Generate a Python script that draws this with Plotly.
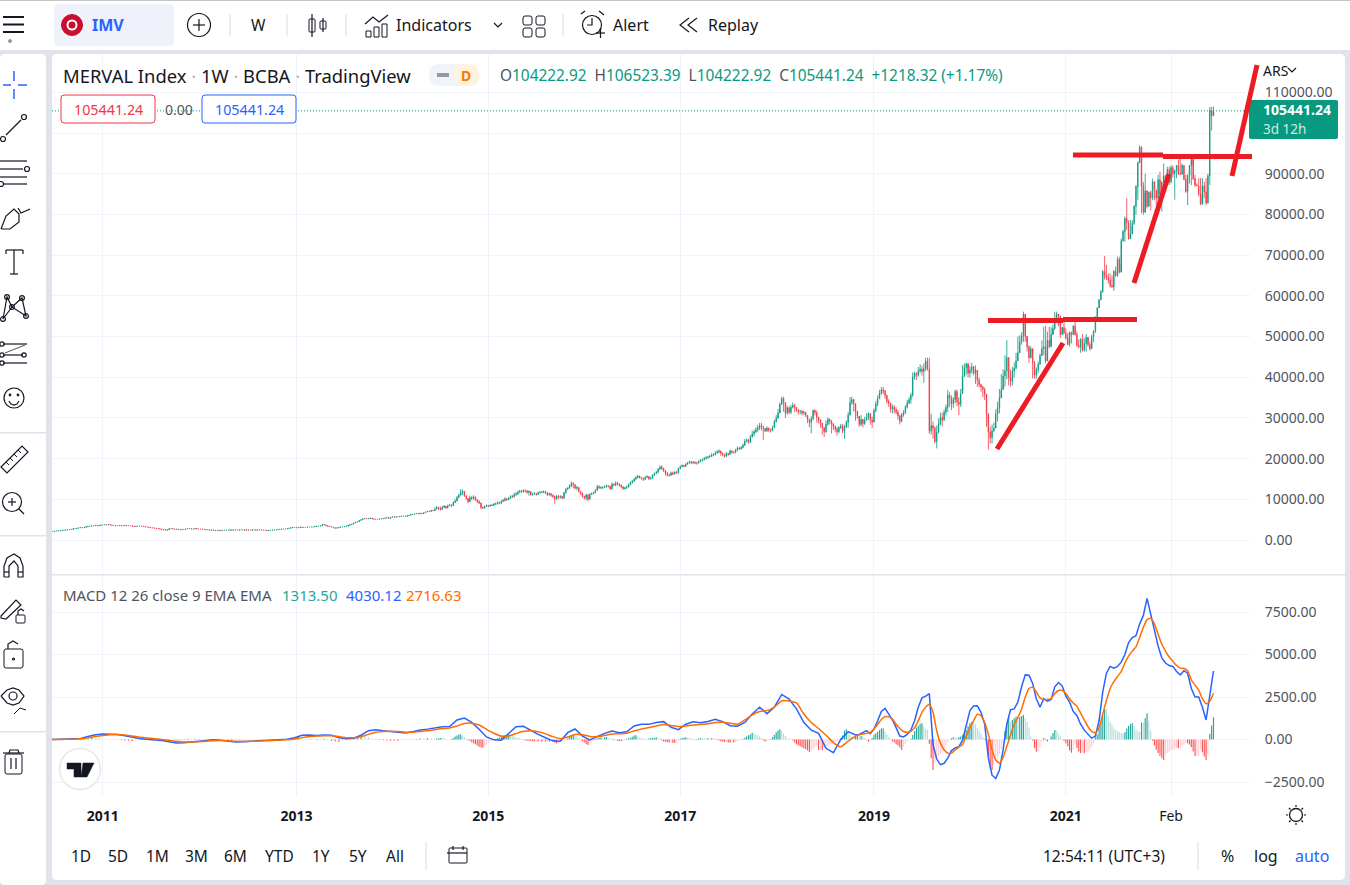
import pandas as pd
import plotly.graph_objects as go

# ---------- weekly closes, thousands of ARS (26 bars per row) ----------
closes = [
2.1,2.1,2.2,2.2,2.3,2.3,2.4,2.4,2.5,2.5,2.6,2.6,2.8,2.8,2.9,3.0,3.1,3.0,3.1,3.3,3.4,3.4,3.5,3.5,3.6,3.5,
3.6,3.7,3.7,3.8,3.7,3.8,3.7,3.6,3.6,3.5,3.5,3.6,3.5,3.5,3.6,3.5,3.5,3.5,3.4,3.3,3.4,3.4,3.4,3.4,3.3,3.2,
3.2,3.1,3.0,3.0,2.9,2.8,2.8,2.7,2.5,2.6,2.4,2.5,2.8,2.8,2.7,2.6,2.7,2.6,2.5,2.6,2.6,2.7,2.8,2.8,2.7,2.7,
2.8,2.7,2.7,2.7,2.6,2.6,2.5,2.5,2.4,2.5,2.4,2.3,2.3,2.4,2.3,2.4,2.4,2.4,2.4,2.5,2.4,2.5,2.4,2.4,2.5,2.5,
2.5,2.4,2.5,2.4,2.4,2.5,2.5,2.4,2.5,2.5,2.4,2.4,2.4,2.3,2.4,2.4,2.5,2.5,2.5,2.6,2.6,2.7,2.7,2.7,2.8,2.9,
3.0,3.1,3.1,3.0,3.1,3.2,3.1,3.1,3.1,3.2,3.2,3.2,3.2,3.3,3.4,3.4,3.5,3.8,3.7,3.5,3.4,3.3,3.2,3.0,2.9,3.0,
3.1,3.2,3.2,3.3,3.4,3.6,3.8,3.9,4.2,4.4,4.5,4.8,5.0,5.2,5.3,5.2,5.3,5.4,5.2,5.1,5.1,5.1,5.2,5.2,5.3,5.4,
5.5,5.3,5.6,5.7,5.6,5.7,5.7,5.8,5.9,5.9,5.8,6.0,6.1,6.3,6.3,6.4,6.5,6.4,6.6,6.5,6.7,6.9,7.1,7.0,7.3,7.2,
7.6,8.0,7.8,7.5,8.0,8.3,7.9,8.4,8.6,8.5,9.2,9.6,10.4,11.0,11.8,12.0,10.9,10.2,9.4,10.4,10.2,10.6,9.9,9.4,9.1,8.0,
7.9,8.2,8.4,8.3,8.5,8.5,8.8,8.9,9.2,9.0,9.5,9.7,10.1,9.9,10.2,10.7,10.6,11.1,11.3,11.7,12.0,11.8,12.1,12.0,11.7,11.9,
11.2,11.3,11.4,11.2,11.6,11.7,11.7,11.9,11.6,11.1,11.4,11.0,10.7,10.1,10.8,10.5,10.7,10.3,11.6,12.4,12.7,13.3,13.9,13.6,12.7,12.9,
11.9,11.4,10.7,10.3,11.1,10.0,11.2,11.4,11.6,12.2,13.1,12.8,12.9,12.9,13.1,13.3,13.2,12.6,13.7,13.5,14.0,13.7,13.4,13.1,12.6,12.8,
13.0,13.5,14.0,14.4,14.9,15.3,15.7,15.3,15.1,14.9,15.4,15.6,15.0,15.2,15.9,16.3,16.6,17.4,17.9,17.5,17.0,16.4,16.0,15.9,16.5,16.2,
16.7,16.5,17.5,18.0,18.3,18.1,18.6,18.9,19.2,19.0,19.1,18.9,18.9,19.3,19.5,19.7,20.0,20.2,20.4,20.5,20.9,21.0,21.4,21.6,21.8,21.3,
21.0,20.6,21.3,21.0,21.9,21.6,21.5,22.1,22.6,22.4,22.7,23.3,24.2,24.6,24.0,25.3,26.0,26.6,27.1,27.6,28.1,27.7,27.4,26.8,27.5,27.1,
26.9,27.6,29.0,29.9,31.2,33.3,34.8,33.8,31.2,32.5,31.4,32.6,33.1,32.6,32.0,31.5,31.6,31.2,31.4,30.6,29.6,28.9,29.8,31.8,31.3,30.2,
29.4,28.7,27.6,26.6,28.4,29.7,29.1,28.6,27.8,27.3,26.6,27.6,28.0,26.8,27.7,28.9,30.7,33.8,34.5,33.5,31.6,30.4,28.4,29.6,28.6,29.5,
30.1,31.0,29.5,29.0,31.8,33.4,34.7,36.0,36.9,36.7,35.5,34.1,33.6,32.2,32.7,32.0,31.4,30.5,29.2,30.8,31.3,32.6,33.6,34.5,35.6,40.1,
40.9,40.5,41.6,42.0,41.4,42.1,44.0,42.0,26.8,28.1,27.5,24.2,26.5,28.5,30.1,29.4,31.4,32.6,35.6,34.9,33.5,34.5,36.5,33.9,33.3,36.0,
40.2,42.4,43.3,41.0,41.8,42.5,41.0,41.7,39.3,38.2,37.6,37.0,35.8,31.0,26.5,25.1,26.8,27.5,31.0,32.5,34.9,37.0,40.3,41.5,44.8,40.0,
39.0,41.5,42.2,44.0,46.0,48.7,50.0,55.5,50.0,47.5,44.8,47.0,43.5,40.5,41.8,43.2,45.3,47.0,47.5,44.0,49.0,47.5,50.5,52.0,54.5,55.5,
55.0,50.4,52.2,50.8,49.6,48.0,51.0,50.4,52.5,50.5,47.8,47.4,49.3,46.6,48.3,49.8,48.0,47.0,50.0,51.2,54.6,57.0,59.0,61.0,66.0,65.0,
64.5,63.9,62.5,62.2,66.0,64.9,69.0,65.8,73.5,75.8,79.0,78.0,74.0,75.2,77.8,82.0,86.8,92.7,96.5,87.0,80.5,85.8,82.0,85.4,84.0,88.0,
86.0,84.0,88.5,85.0,88.0,89.5,88.0,91.0,88.0,91.5,90.0,90.8,92.0,90.0,89.9,92.0,88.6,85.6,89.7,92.0,93.5,88.8,87.2,87.0,85.0,82.5,
87.0,85.5,82.8,89.5,105.5,104.2,105.44]
highs_late = [
8.0,8.3,8.2,8.2,8.4,8.6,8.4,8.7,8.9,8.8,9.5,10.0,10.8,11.4,12.5,12.4,12.0,10.9,10.3,10.9,10.8,11.0,10.6,10.0,9.8,9.2,
8.2,8.5,8.7,8.6,8.8,8.8,9.1,9.2,9.5,9.4,9.8,10.1,10.5,10.3,10.6,11.0,11.1,11.6,11.8,12.2,12.3,12.3,12.5,12.4,12.3,12.2,
11.7,11.6,11.8,11.6,11.9,12.0,12.1,12.2,12.1,11.7,11.7,11.4,11.2,10.9,11.1,11.0,11.0,10.9,11.9,12.8,13.0,13.7,14.4,14.2,13.7,13.3,
12.5,12.1,11.7,10.9,11.4,11.2,11.5,11.7,11.9,12.5,13.5,13.5,13.2,13.2,13.4,13.6,13.5,13.3,14.1,13.9,14.4,14.3,13.9,13.7,13.2,13.1,
13.4,13.9,14.4,14.8,15.3,15.8,16.0,15.8,15.5,15.3,15.7,15.9,15.7,15.6,16.2,16.6,17.0,17.7,18.3,18.4,17.8,17.2,16.7,16.3,16.8,16.8,
16.9,17.0,17.8,18.3,18.6,18.5,18.9,19.2,19.5,19.4,19.4,19.3,19.2,19.6,19.9,20.0,20.4,20.6,20.7,20.9,21.3,21.3,21.8,22.1,22.3,22.0,
21.5,21.2,21.6,21.4,22.2,22.0,21.8,22.4,23.0,22.8,23.1,23.7,24.8,25.0,24.8,25.8,26.8,27.1,27.7,28.3,28.8,28.8,28.1,27.5,27.9,27.6,
27.4,28.1,29.6,30.7,32.2,33.8,35.2,35.2,33.7,33.0,32.8,33.2,33.8,33.4,32.7,32.1,32.0,32.0,31.8,31.4,30.7,29.8,30.4,32.1,32.1,31.8,
30.3,29.7,28.5,27.7,29.4,30.1,29.8,29.5,28.4,28.1,27.8,28.0,28.5,28.5,28.3,29.4,31.5,35.1,35.2,34.6,33.0,31.8,29.9,30.7,29.8,30.3,
31.2,31.4,31.2,30.3,32.3,34.2,35.5,36.9,37.6,37.6,36.8,35.7,34.6,33.8,33.3,33.1,32.6,32.0,30.8,31.2,31.9,33.1,34.4,35.1,36.2,41.2,
41.4,41.2,42.5,43.2,42.8,43.4,44.8,44.8,44.8,31.0,29.1,27.9,28.1,29.9,31.3,31.3,32.1,33.3,36.9,36.3,35.5,35.1,37.0,36.9,35.1,37.1,
43.0,43.4,43.6,42.1,42.8,43.5,42.8,42.9,41.6,39.9,38.4,37.9,37.5,35.2,28.4,27.8,28.4,28.9,32.1,34.0,37.1,40.8,42.0,45.4,49.1,44.4,
41.9,42.5,43.6,46.0,50.0,50.3,51.0,56.1,53.5,48.7,47.8,47.6,45.8,44.0,42.4,43.8,45.8,49.0,52.4,52.6,51.2,52.4,52.3,53.0,56.1,56.1,
55.5,53.0,52.4,53.5,52.0,50.8,51.2,51.2,52.8,53.6,51.2,49.3,49.6,50.6,49.6,50.6,49.0,48.7,50.4,51.6,55.0,57.2,59.2,61.4,66.3,69.8,
67.6,65.5,65.5,65.0,66.3,67.2,69.6,69.6,74.1,76.2,79.5,84.0,78.6,78.6,78.6,82.3,87.2,93.0,97.0,96.7,88.0,90.0,85.6,85.6,85.8,88.8,
87.5,86.0,89.7,90.5,88.0,92.5,89.7,91.7,91.7,92.1,92.0,91.0,92.1,93.4,93.8,92.5,92.1,89.7,89.7,92.1,93.8,92.1,89.7,87.6,88.9,88.9,
88.9,88.0,88.9,90.0,106.4,106.4,106.52]
lows_late = [
7.2,7.5,7.4,7.2,7.4,7.9,7.6,7.8,8.3,8.1,8.4,9.1,9.5,10.3,10.9,11.0,10.6,9.9,9.0,9.3,9.8,9.9,9.6,9.1,8.8,7.6,
7.6,7.7,8.1,8.1,8.2,8.3,8.4,8.6,8.7,8.8,9.0,9.3,9.5,9.6,9.8,10.1,10.3,10.5,10.9,11.0,11.5,11.6,11.7,11.7,11.4,10.9,
10.9,10.9,11.1,10.9,11.1,11.4,11.5,11.5,11.3,10.8,10.9,10.6,10.3,8.9,9.9,10.1,10.2,10.0,10.1,11.4,12.3,12.5,13.0,12.7,12.5,12.2,
11.7,11.1,10.4,10.0,9.8,9.5,10.0,11.1,11.2,11.5,12.1,12.5,12.5,12.5,12.8,12.9,12.9,12.3,12.4,13.2,13.2,13.4,13.1,12.8,12.3,12.4,
12.6,12.9,13.5,13.9,14.4,14.9,15.2,15.1,14.8,14.5,14.8,15.2,14.8,14.8,15.1,15.8,16.2,16.5,17.3,17.2,16.7,15.8,15.6,15.6,15.8,15.9,
16.1,16.2,16.3,17.4,17.9,17.8,18.0,18.5,18.8,18.6,18.7,18.6,18.5,18.8,19.1,19.3,19.6,19.8,20.0,20.2,20.4,20.6,20.8,21.2,21.3,20.7,
20.6,20.2,20.4,20.7,21.0,21.2,21.2,21.3,21.8,22.2,22.2,22.5,23.1,24.0,23.6,23.8,25.2,25.5,26.3,26.5,27.0,26.9,24.6,26.5,26.6,26.5,
26.4,26.7,27.8,28.9,30.3,31.8,33.5,31.5,30.0,30.8,30.9,30.9,32.3,31.4,31.5,30.8,30.9,30.6,30.7,30.2,28.7,27.7,26.2,29.4,30.6,28.8,
28.6,27.6,25.9,25.3,26.3,28.1,28.4,26.2,27.0,26.4,25.6,26.2,27.3,26.2,24.8,27.5,27.6,30.6,33.2,31.6,29.3,29.8,27.8,28.0,27.7,28.3,
29.3,29.5,28.3,27.5,28.9,31.4,32.8,34.7,35.7,35.9,34.7,33.5,32.7,31.3,31.1,31.1,30.9,29.6,28.4,28.9,30.3,30.9,32.3,33.4,33.5,35.1,
39.4,39.3,40.1,41.0,40.4,38.6,41.5,41.6,26.1,25.9,24.9,23.7,22.5,26.2,28.2,27.9,29.4,30.6,31.4,32.7,31.9,32.5,33.6,32.9,30.7,32.7,
38.2,40.4,40.6,40.0,39.9,40.9,40.5,38.3,37.6,37.5,36.4,35.1,34.4,27.8,22.2,23.7,23.7,26.6,27.9,29.1,31.1,36.5,37.7,37.7,39.5,38.0,
37.7,37.9,39.9,41.9,44.0,46.5,48.0,48.7,48.7,46.3,43.5,44.6,39.7,39.7,39.6,41.0,43.4,45.4,45.4,43.4,45.8,47.1,49.6,51.5,51.6,54.5,
52.5,49.6,50.4,50.6,49.3,47.9,47.5,48.3,50.4,50.2,47.5,47.1,46.0,46.3,46.3,46.3,47.5,46.5,48.3,48.6,50.9,54.8,57.0,59.0,60.8,64.0,
63.9,63.0,62.0,62.0,61.2,64.7,64.7,65.5,67.6,73.3,73.3,76.2,73.8,75.0,77.0,77.4,79.9,83.6,93.0,80.3,79.9,85.2,81.5,81.9,81.0,83.5,
83.5,82.0,82.7,84.4,80.7,87.6,87.3,87.6,87.2,87.6,89.0,83.6,88.9,89.7,89.7,89.7,88.4,85.3,82.3,87.6,87.2,88.4,86.8,87.0,84.5,82.3,
85.0,84.0,82.3,82.7,87.2,100.6,104.22]

# ---------- MACD pane, ARS ----------
macd_early = [0,10,20,30,60,180,280,320,330,300,220,120,60,20,-10,-60,-130,-210,-190,-150,-110,-60,-20,-40,-80,-140,-130,-100,-80,-50,-30,-20,10,100,250,270,240,260,250,100,40,80,250,520,580,520,470,420,380,450,560,610,700,750,760,1150,1260,1010,600,150,-20,-40,350,750,780,530,300,100,-80,-100,400,620,200,-30,180,360,500,400,450,800,890,890,1000,1050,720,580,900,1040,990,1060,1190,1050,810,780,1000,1500,1900,1520,1900,2650,2380,1800,1000,550,360,-520,-780,0,460]
macd_late = [270,300,400,520,340,620,1100,1650,1830,1500,1150,700,200,150,300,560,1100,1900,2450,2550,2700,-300,-1150,-1480,-1400,-1100,-650,-500,-420,-50,800,1700,1970,1980,1600,900,-1100,-2100,-2300,-1800,-600,900,1750,1800,2200,3100,3800,3780,3300,2400,1900,2400,2250,2350,3100,3350,3150,2550,2200,1650,1400,900,550,300,80,200,1100,2800,3900,4300,4200,4300,4550,5000,5700,6000,6100,6800,7300,8300,7300,6300,5500,4800,4500,4350,4300,4000,3800,4050,3900,3000,2500,2500,1900,1150,2500,4030]
signal_early = [0,5,10,20,40,100,170,230,280,290,260,200,140,90,50,0,-50,-110,-140,-150,-130,-100,-70,-60,-70,-100,-110,-110,-100,-80,-60,-40,-20,30,110,170,200,220,220,170,110,100,160,300,420,470,480,470,430,430,470,520,580,640,680,800,940,960,850,600,370,200,210,350,480,510,450,330,170,50,150,300,280,180,170,240,320,340,370,500,620,700,800,880,830,760,790,850,880,930,1000,1020,960,900,1150,1450,1650,1700,1900,2280,2270,2150,1500,1000,650,250,-180,-430,-100]
signal_late = [200,280,320,360,420,620,900,1180,1340,1330,1200,900,650,470,420,480,700,1100,1600,1900,2070,1600,500,-200,-600,-800,-800,-620,-450,-300,200,700,1100,1480,1400,1000,300,-600,-1200,-1380,-1050,-400,250,900,1300,1800,2500,3000,3070,2800,2450,2350,2350,2400,2700,2880,2890,2700,2400,2150,1950,1550,1150,750,480,400,700,1500,2300,3000,3400,3700,4000,4500,4900,5200,5450,6000,6600,7050,7130,6800,6200,5600,5200,4850,4600,4350,4200,4180,4050,3500,3200,2900,2400,2100,2250,2717]
hist_early = [
-40,-30,-10,10,10,20,30,30,40,50,70,90,80,
40,20,10,5,5,-10,-30,-60,-80,-90,-70,-50,-40,
-40,-50,-60,-70,-90,-110,-100,-60,-30,20,30,40,40,
50,40,30,-20,-30,-50,-60,-50,-40,30,50,40,20,
20,20,10,10,10,-20,-10,-10,10,10,20,30,50,
100,130,140,90,50,20,20,30,30,40,20,-90,-120,
-140,-110,-80,-60,110,190,220,200,140,60,40,-30,-50,
-60,-70,-80,-90,-60,-60,-50,-40,30,60,60,80,80]
hist_late = [
40,60,70,90,90,70,50,20,10,30,90,170,240,300,310,220,140,60,-40,-70,-160,-220,-280,-350,-420,-470,
-480,-400,-300,-200,-130,-70,-20,30,80,120,170,220,270,290,300,280,240,180,150,110,70,30,-20,-60,-70,-80,
-90,-100,-110,-110,-120,-100,-130,-110,-120,-110,-130,-110,-140,-190,-240,-200,-150,-100,-50,-10,60,140,220,260,240,170,
80,-20,-100,-180,-280,-320,-220,-130,-60,30,70,100,120,80,120,150,100,60,40,-50,-30,-80,-90,-110,-100,-40,
40,70,110,160,230,250,180,120,90,60,50,50,60,70,90,110,130,80,60,-60,-120,-130,-160,-180,-170,-190,
-200,-120,-60,40,90,110,130,120,100,60,30,-10,30,60,80,70,70,60,70,60,80,70,40,-30,-60,-100,
-120,-150,-140,-170,-190,-170,-180,-150,-110,-60,-20,30,100,170,250,300,390,340,280,230,170,110,-60,-120,-100,-40,
30,140,280,420,530,610,500,360,200,80,50,20,-60,-180,-280,-340,-400,-470,-510,-580,-640,-730,-700,-580,-420,-320,
-620,-600,-640,-520,-420,-380,-300,-240,-200,-150,-100,-50,60,240,520,620,400,300,170,140,180,200,170,210,160,100,
-20,-130,-120,90,280,370,460,560,640,660,480,300,150,50,-100,-170,-280,-360,-470,-620,-430,-270,-110,-50,50,270,
480,700,810,920,950,760,620,560,-250,-1100,-1800,-1400,-1100,-950,-850,-700,-500,-330,-150,-30,70,130,120,110,130,170,
250,380,560,780,960,1050,1010,900,680,520,330,150,-30,-320,-950,-1600,-1800,-1500,-1300,-1050,-820,-550,-300,500,950,1300,
1050,1150,1250,1340,1300,1320,1380,1440,1250,1050,700,170,-60,-500,-720,-700,-450,-130,100,-40,-120,-50,170,380,560,500,
330,170,30,-80,-220,-400,-640,-780,-620,-300,-500,-700,-800,-750,-810,-720,-700,-600,-450,-220,130,300,650,1050,1450,1790,
1790,1400,1050,850,650,560,480,420,380,360,430,640,800,900,950,800,600,500,450,1000,1000,1250,1540,1100,500,-80,
-350,-600,-800,-950,-1100,-1200,-900,-800,-700,-620,-620,-560,-500,-520,-520,-400,-300,-200,-220,-300,-450,-700,-970,-960,-960,-600,
-750,-1000,-1200,-900,320,830,1313]

price_ticks = [0,10000,20000,30000,40000,50000,60000,70000,80000,90000,100000,110000]
macd_ticks = [-2500,0,2500,5000,7500]
year_ticks = ["2011-01-03","2013-01-07","2015-01-05","2017-01-02","2019-01-07","2021-01-04","2022-02-07"]
year_labels = ["<b>2011</b>","<b>2013</b>","<b>2015</b>","<b>2017</b>","<b>2019</b>","<b>2021</b>","Feb"]

W, H = 1350, 885
GREEN, RED, BLUE, ORANGE = "#089981", "#f23645", "#2962ff", "#ff6d00"
INK, GREY, GRID, BAND = "#131722", "#50535e", "#f0f3fa", "#e0e3eb"
FONT = "Noto Sans"

n = len(closes)
dates = pd.date_range(end="2022-07-18", periods=n, freq="W-MON")
c = [v * 1000 for v in closes]
o = [c[0]] + c[:-1]
tail = n - len(highs_late)
h = [max(a, b) for a, b in zip(o[:tail], c[:tail])] + [v * 1000 for v in highs_late]
tail = n - len(lows_late)
l = [min(a, b) for a, b in zip(o[:tail], c[:tail])] + [v * 1000 for v in lows_late]

line_idx = list(range(0, 4 * len(macd_early), 4))
line_idx_late = list(range(n - 1 - 2 * (len(macd_late) - 1), n, 2))
line_x = list(dates[line_idx]) + list(dates[line_idx_late])
macd_vals = macd_early + macd_late
signal_vals = signal_early + signal_late
hist_x = list(dates[list(range(0, 2 * len(hist_early), 2))]) + list(dates[n - len(hist_late):])
hist_vals = hist_early + hist_late
hist_colors = []
for i, v in enumerate(hist_vals):
    prev = hist_vals[i - 1] if i else 0
    if v >= 0:
        hist_colors.append("#26a69a" if v > prev else "#b2dfdb")
    else:
        hist_colors.append("#ff5252" if v < prev else "#ffcdd2")

fig = go.Figure()
fig.add_trace(go.Candlestick(
    x=dates, open=o, high=h, low=l, close=c, xaxis="x", yaxis="y", hoverinfo="skip", whiskerwidth=0,
    increasing=dict(line=dict(color=GREEN, width=0.8), fillcolor=GREEN),
    decreasing=dict(line=dict(color=RED, width=0.8), fillcolor=RED)))
fig.add_trace(go.Bar(x=hist_x, y=hist_vals, xaxis="x2", yaxis="y2", marker=dict(color=hist_colors, line=dict(width=0)),
                     width=7 * 86400000 * 0.62, hoverinfo="skip"))
fig.add_trace(go.Scatter(x=line_x, y=macd_vals, xaxis="x2", yaxis="y2", mode="lines",
                         line=dict(color=BLUE, width=1.5), hoverinfo="skip"))
fig.add_trace(go.Scatter(x=line_x, y=signal_vals, xaxis="x2", yaxis="y2", mode="lines",
                         line=dict(color=ORANGE, width=1.5, shape="spline", smoothing=0.6), hoverinfo="skip"))

# ---------- pixel helpers for the application chrome ----------
shapes, notes = [], []
def fx(px): return px / W
def fy(py): return 1 - py / H
def rrect(x0, y0, x1, y1, r=0, fill=None, stroke=None, w=1, layer="below"):
    X0, X1, Y0, Y1 = fx(x0), fx(x1), fy(y0), fy(y1)
    rx, ry = r / W, r / H
    p = (f"M{X0+rx},{Y0} L{X1-rx},{Y0} Q{X1},{Y0} {X1},{Y0-ry} L{X1},{Y1+ry} Q{X1},{Y1} {X1-rx},{Y1} "
         f"L{X0+rx},{Y1} Q{X0},{Y1} {X0},{Y1+ry} L{X0},{Y0-ry} Q{X0},{Y0} {X0+rx},{Y0} Z")
    shapes.append(dict(type="path", path=p, xref="paper", yref="paper", fillcolor=fill or "rgba(0,0,0,0)",
                       line=dict(color=stroke or "rgba(0,0,0,0)", width=w if stroke else 0), layer=layer))
def seg(pts, color=INK, w=1.2, close=False, layer="above"):
    p = "M" + " L".join(f"{fx(a)},{fy(b)}" for a, b in pts) + (" Z" if close else "")
    shapes.append(dict(type="path", path=p, xref="paper", yref="paper", line=dict(color=color, width=w), layer=layer))
def circ(cx, cy, r, color=INK, w=1.2, fill=None, layer="above"):
    shapes.append(dict(type="circle", xref="paper", yref="paper", x0=fx(cx-r), x1=fx(cx+r), y0=fy(cy+r), y1=fy(cy-r),
                       line=dict(color=color, width=w), fillcolor=fill or "rgba(0,0,0,0)", layer=layer))
def text(px, py, s, size=14, color=INK, anchor="left", font=FONT):
    notes.append(dict(x=fx(px), y=fy(py), xref="paper", yref="paper", text=s, showarrow=False, xanchor=anchor,
                      yanchor="middle", align=anchor, font=dict(family=font, size=size, color=color), borderpad=0))

# panels
rrect(0, 1, 1350, 50, fill="#ffffff")
rrect(0, 0, 1350, 1, fill="#c4c4c4")
rrect(0, 54, 46, 885, 5, fill="#ffffff")
rrect(52, 54, 1345, 880, 5, fill="#ffffff")
for yy in (432, 535, 731):
    rrect(0, yy, 46, yy + 1.5, fill=BAND)
rrect(52, 574, 1345, 575.5, fill=BAND, layer="below")

# top bar
for yy in (17, 24.5, 32):
    seg([(3, yy), (24, yy)], w=2)
circ(10, 41, 1.5, "#9598a1", 1, "#9598a1")
rrect(54, 4, 174, 46, 4, fill="#eff2fa")
circ(72, 25, 10.5, "#c8102e", 1, "#c8102e")
circ(72, 25, 4.5, "#ffffff", 2)
text(91, 25, "<b>IMV</b>", 16, BLUE)
circ(199, 25, 11.5, INK, 1.2)
seg([(193, 25), (205, 25)]); seg([(199, 19), (199, 31)])
for xx in (230, 287, 346, 563):
    seg([(xx, 14), (xx, 36)], BAND, 1.2)
text(258, 25, "W", 15.5, INK, "center")
seg([(312, 14), (312, 37)]); seg([(323, 18), (323, 32)])
rrect(309, 19, 315, 32, 1, stroke=INK, layer="above"); rrect(320, 21, 326, 29, 1, stroke=INK, layer="above")
seg([(365, 24), (373, 17), (379, 22), (388, 15)])
for a, b in ((366, 31), (374, 27), (382, 24)):
    rrect(a, b, a + 5, 37, stroke=INK, layer="above")
text(395, 25, "Indicators", 16)
seg([(494, 23), (498, 27), (502, 23)])
for a in (523, 536):
    for b in (16, 28):
        rrect(a, b, a + 9, b + 9, 2, stroke=INK, layer="above")
circ(592, 25, 9.5)
seg([(592, 18), (592, 25), (587, 25)])
seg([(581, 14), (585, 11)]); seg([(599, 11), (604, 15)]); seg([(596, 33), (605, 33)]); seg([(600.5, 28), (600.5, 38)])
text(612, 25, "Alert", 16)
seg([(689, 18), (680, 25), (689, 32)]); seg([(697, 18), (688, 25), (697, 32)])
text(707, 25, "Replay", 16)

# left toolbar
seg([(3, 85), (11, 85)], BLUE, 1.5); seg([(18, 85), (27, 85)], BLUE, 1.5)
seg([(14, 71), (14, 81)], BLUE, 1.5); seg([(14, 89), (14, 99)], BLUE, 1.5)
seg([(6, 135), (21, 120)]); circ(3, 139, 2.5); circ(24, 117, 2.5)
seg([(0, 161), (27, 161)]); seg([(0, 169), (23, 169)]); seg([(0, 177), (27, 177)]); seg([(4, 184), (27, 184)])
circ(27, 169, 2.5); circ(1, 184, 2.5)
seg([(1, 229), (6, 216), (14, 209), (19, 214), (19, 222), (10, 229), (1, 229)])
seg([(18, 208), (21, 213), (30, 209)])
seg([(6, 250), (23, 250)]); seg([(6, 250), (6, 254)]); seg([(23, 250), (23, 254)]); seg([(14, 250), (14, 274)]); seg([(10, 274), (18, 274)])
for p in [(3, 319), (7, 297), (22, 298), (26, 316), (12, 307)]:
    circ(p[0], p[1], 2.4)
seg([(3, 319), (7, 297), (12, 307), (22, 298), (26, 316), (12, 307), (3, 319)])
seg([(3, 344), (27, 344)]); seg([(3, 355), (23, 355)]); seg([(3, 363), (27, 363)])
seg([(5, 353), (25, 345)], GREY, 1)
circ(2, 344, 2.2); circ(2, 355, 2.2); circ(2, 363, 2.2); circ(24, 355, 2.2)
circ(14, 398, 10); circ(10, 395, .8); circ(18, 395, .8)
seg([(9, 401), (11, 404), (14, 405), (17, 404), (19, 401)])
seg([(1, 467), (22, 446), (28, 452), (7, 473)], close=True)
for a, b in ((6, 462), (10, 458), (14, 454), (18, 450)):
    seg([(a, b), (a + 3, b + 3)], INK, 1)
circ(12, 502, 9.5); seg([(19, 509), (24, 514)]); seg([(8, 502), (16, 502)]); seg([(12, 498), (12, 506)])
seg([(4, 577), (4, 566), (7, 558), (14, 554), (20, 558), (23, 566), (23, 577), (18, 577), (18, 566), (14, 561), (9, 566), (9, 577), (4, 577)])
seg([(4, 572), (9, 572)]); seg([(18, 572), (23, 572)])
seg([(1, 616), (16, 600), (21, 605), (6, 619), (1, 618)], close=True)
rrect(16, 615, 25, 623, 1, stroke=INK, layer="above"); seg([(18, 615), (18, 611), (21, 609), (24, 611)])
rrect(4, 649, 23, 668, 2, stroke=INK, layer="above"); seg([(8, 649), (8, 644), (13, 641), (18, 644)]); circ(13.5, 659, 1)
seg([(1, 696), (7, 690), (13, 688), (19, 690), (24, 696), (19, 703), (13, 705), (7, 703), (1, 696)])
circ(13, 696, 4); seg([(14, 714), (20, 708), (26, 710)], INK, 1)
rrect(5, 754, 22, 774, 2, stroke=INK, layer="above"); seg([(3, 753), (24, 753)]); seg([(9, 753), (10, 750), (18, 750), (19, 753)])
seg([(11, 758), (11, 769)]); seg([(16, 758), (16, 769)])

# legends
text(62, 75, "MERVAL Index <span style='color:#b2b5be'>·</span> 1W <span style='color:#b2b5be'>·</span> BCBA <span style='color:#b2b5be'>·</span> TradingView", 18.4)
rrect(429, 64, 479, 86, 10, fill="#f0f3fa")
rrect(454, 64, 479, 86, 10, fill="#fff3e0")
seg([(437, 75), (449, 75)], "#9598a1", 4)
text(466, 75, "<b>D</b>", 14, "#f57c00", "center")
text(499, 75, "".join(f"<span style='color:{GREY}'>{a}</span>{b}  " for a, b in
     (("O", "104222.92"), ("H", "106523.39"), ("L", "104222.92"), ("C", "105441.24"))) + "+1218.32 (+1.17%)", 15.4, GREEN)
rrect(61, 95, 155, 123, 3, fill="#ffffff", stroke=RED, layer="above")
rrect(202, 95, 296, 123, 3, fill="#ffffff", stroke=BLUE, layer="above")
text(108, 109.5, "105441.24", 14.3, RED, "center")
text(249, 109.5, "105441.24", 14.3, BLUE, "center")
text(178.5, 109.5, "0.00", 14, GREY, "center")
text(62, 595, "MACD 12 26 close 9 EMA EMA", 15, GREY)
text(281, 595, "1313.50", 15, "#26a69a"); text(345, 595, "4030.12", 15, BLUE); text(405, 595, "2716.63", 15, ORANGE)
text(1262, 70, "ARS", 14, INK)
seg([(1288, 68), (1292, 72), (1296, 68)])

# last-price tag
rrect(1249, 100, 1338, 139, 2, fill=GREEN, layer="above")
text(1262, 110, "<b>105441.24</b>", 14, "#ffffff")
text(1262, 129, "3d 12h", 13.5, "#cfeae4")

# logo
circ(80, 769, 20.5, "#e6e7ea", 1.5, "#ffffff")
seg([(67, 763), (81, 763), (81, 777), (74, 777), (74, 769), (67, 769)], INK, .5, True)
shapes[-1]["fillcolor"] = INK
seg([(83, 763), (94, 763), (87, 777), (81, 777)], INK, .5, True)
shapes[-1]["fillcolor"] = INK

# bottom bar
for s, xx in zip(["1D", "5D", "1M", "3M", "6M", "YTD", "1Y", "5Y", "All"], [81, 118, 157, 196, 235, 279, 321, 358, 395]):
    text(xx, 856, s, 15.5, INK, "center")
seg([(426, 842), (426, 870)], BAND, 1.2)
rrect(449, 848, 467, 863, 1, stroke=INK, layer="above")
seg([(447, 853), (467, 853)]); seg([(453, 846), (453, 850)]); seg([(463, 846), (463, 850)])
text(1042, 856, "12:54:11 (UTC+3)", 15.5)
seg([(1198, 842), (1198, 870)], BAND, 1.2)
text(1227, 856, "%", 16, INK, "center"); text(1266, 856, "log", 16, INK, "center"); text(1312, 856, "auto", 16, BLUE, "center")
circ(1296, 815, 6.5, INK, 1.3)
for a, b, d, e in ((1296, 805, 1296, 807), (1296, 823, 1296, 825), (1286, 815, 1288, 815), (1304, 815, 1306, 815),
                   (1289, 808, 1290.5, 809.5), (1301.5, 820.5, 1303, 822), (1289, 822, 1290.5, 820.5), (1301.5, 809.5, 1303, 808)):
    seg([(a, b), (d, e)], INK, 1.2)

# hand-drawn red strokes over the chart
for pts in ([(997, 449), (1063, 343)], [(988, 320.5), (1063, 320.5)], [(1063, 319.5), (1137, 319.5)],
            [(1134, 283), (1169, 174)], [(1073, 155), (1163, 155)], [(1163, 156.5), (1252, 156.5)],
            [(1232, 176), (1257, 65)]):
    seg(pts, "#ed1c24", 5)

# dotted last-price line in data coordinates
shapes.append(dict(type="line", xref="x domain", yref="y", x0=0, x1=1, y0=c[-1], y1=c[-1],
                   line=dict(color=GREEN, width=1, dash="1px,2px"), layer="below"))

# ---------- axes ----------
left = dates[-1] - pd.Timedelta(weeks=629.5)
right = dates[-1] + pd.Timedelta(weeks=19.8)
dom_x = [fx(52), fx(1250)]
common_x = dict(type="date", range=[left, right], domain=dom_x, tickvals=year_ticks, showgrid=True, gridcolor=GRID,
                gridwidth=1, zeroline=False, showline=False, rangeslider=dict(visible=False), fixedrange=True)
px_per_k = 4.07
price_lo, price_hi = (540 - 574) / px_per_k * 1000, (540 - 54) / px_per_k * 1000
macd_lo, macd_hi = (739.5 - 797) / 17 * 1000, (739.5 - 575) / 17 * 1000
common_y = dict(side="right", showgrid=True, gridcolor=GRID, gridwidth=1, zeroline=False, showline=False, ticks="outside",
                ticklen=11, tickcolor="rgba(0,0,0,0)", tickfont=dict(family=FONT, size=14, color=GREY), fixedrange=True)
fig.update_layout(
    width=W, height=H, margin=dict(l=0, r=0, t=0, b=0), autosize=False,
    paper_bgcolor=BAND, plot_bgcolor="rgba(0,0,0,0)", showlegend=False, barmode="overlay", boxgap=0.6,
    font=dict(family=FONT), shapes=shapes, annotations=notes,
    xaxis=dict(anchor="y", ticktext=[""] * len(year_ticks), showticklabels=False, **common_x),
    xaxis2=dict(anchor="y2", ticktext=year_labels, ticks="outside", ticklen=6, tickcolor="rgba(0,0,0,0)",
                tickfont=dict(family=FONT, size=14, color=INK), **common_x),
    yaxis=dict(domain=[fy(574), fy(54)], range=[price_lo, price_hi], anchor="x", tickvals=price_ticks,
               ticktext=[f"{v:.2f}" if v != 100000 else "" for v in price_ticks], **common_y),
    yaxis2=dict(domain=[fy(797), fy(575)], range=[macd_lo, macd_hi], anchor="x2", tickvals=macd_ticks,
                ticktext=[f"{v:.2f}".replace("-", "\u2212") for v in macd_ticks], **common_y),
)
fig.write_html("out.html", config=dict(displayModeBar=False, staticPlot=True),
               post_script="document.body.style.margin='0';document.documentElement.style.overflow='hidden';")
